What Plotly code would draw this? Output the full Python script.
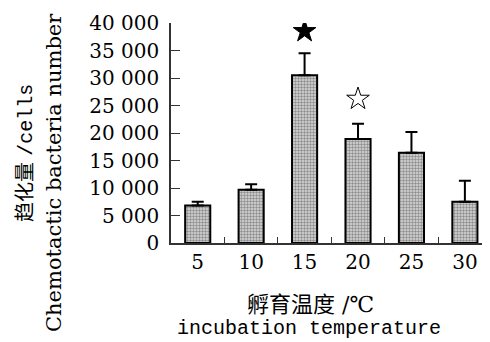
import plotly.graph_objects as go

temps = ["5", "10", "15", "20", "25", "30"]
counts = [6800, 9700, 30500, 18900, 16400, 7500]
errors = [700, 1000, 4000, 2800, 3800, 3800]
star_temps = ["15", "20"]
star_vals = [38500, 26200]
star_symbols = ["star", "star-open"]
ytick_vals = [0, 5000, 10000, 15000, 20000, 25000, 30000, 35000, 40000]
ytick_text = ["0", "5 000", "10 000", "15 000", "20 000", "25 000", "30 000", "35 000", "40 000"]

SERIF = "DejaVu Serif, Noto Sans CJK SC, serif"

fig = go.Figure()
fig.add_trace(go.Bar(
    x=temps, y=counts, width=0.47,
    marker=dict(color="#c8c8c8", line=dict(color="black", width=2),
                pattern=dict(shape=".", fgcolor="#404040", bgcolor="#dadada", size=3, solidity=0.5)),
    error_y=dict(type="data", array=errors, arrayminus=[0]*len(errors), symmetric=False,
                 width=6, thickness=2, color="black"),
    showlegend=False,
))
fig.add_trace(go.Scatter(
    x=star_temps, y=star_vals, mode="markers",
    marker=dict(symbol=star_symbols, size=17, color="black", line=dict(color="black", width=1)),
    showlegend=False,
))

# page body has an 8px margin; figure is placed at (8, 8)
fig.update_layout(
    width=482, height=334,
    margin=dict(l=163, r=0, t=15, b=99, autoexpand=False),
    paper_bgcolor="white", plot_bgcolor="white",
    font=dict(family=SERIF, size=20, color="black"),
    xaxis=dict(type="category", range=[-0.5, 5.47], showline=True, linecolor="#333", linewidth=1.5,
               ticks="inside", tickson="boundaries", ticklen=6, tickcolor="#333", automargin=False,
               tickfont=dict(family=SERIF, size=20), showgrid=False, fixedrange=True),
    yaxis=dict(range=[0, 40000], tickvals=ytick_vals, ticktext=ytick_text, showline=True,
               linecolor="#333", linewidth=1.5, ticks="inside", ticklen=9, tickcolor="#333",
               automargin=False,
               tickfont=dict(family=SERIF, size=20), showgrid=False, zeroline=False, ticklabelstandoff=6),
    annotations=[
        dict(text="趋化量 <span style='font-family:Liberation Mono'>/cells</span>", xref="paper", yref="paper",
             x=-171/319 + 25/319, y=1 - (153-23)/220, xanchor="center", yanchor="middle",
             textangle=-90, showarrow=False, font=dict(family=SERIF, size=20)),
        dict(text="Chemotactic bacteria number", xref="paper", yref="paper",
             x=-171/319 + 54/319, y=1 - (172-23)/220, xanchor="center", yanchor="middle",
             textangle=-90, showarrow=False, font=dict(family=SERIF, size=21)),
        dict(text="孵育温度 /℃", xref="paper", yref="paper",
             x=(310-171)/319, y=1 - (304-23)/220, xanchor="center", yanchor="middle",
             showarrow=False, font=dict(family=SERIF, size=22)),
        dict(text="incubation temperature", xref="paper", yref="paper",
             x=(309-171)/319, y=1 - (328-23)/220, xanchor="center", yanchor="middle",
             showarrow=False, font=dict(family="Liberation Mono, monospace", size=20)),
    ],
)

fig.write_html("out.html")
